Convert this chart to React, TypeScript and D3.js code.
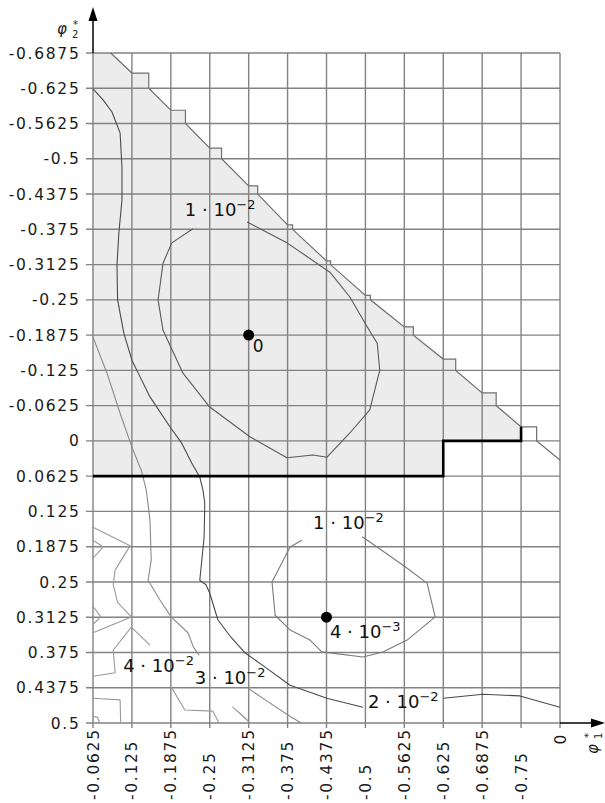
import * as d3 from 'd3';

type Pt = [number, number];

// axis ticks (φ1 columns read left to right, φ2 rows top to bottom)
const X_TICK_LABELS = ['-0.0625', '-0.125', '-0.1875', '-0.25', '-0.3125', '-0.375', '-0.4375', '-0.5', '-0.5625', '-0.625', '-0.6875', '-0.75', '0'];
const Y_TICK_LABELS = ['-0.6875', '-0.625', '-0.5625', '-0.5', '-0.4375', '-0.375', '-0.3125', '-0.25', '-0.1875', '-0.125', '-0.0625', '0', '0.0625', '0.125', '0.1875', '0.25', '0.3125', '0.375', '0.4375', '0.5'];
const STEP = 0.0625;
const PHI1_FIRST = -0.0625;
const PHI2_TOP = -0.6875;
const PHI2_BOTTOM = 0.5;

// admissible region boundary: diagonal meets the top edge, crosses the columns, meets the right edge
const boundaryTopPhi1 = -0.091;
const boundaryCrossings = [-0.652, -0.586, -0.519, -0.452, -0.383, -0.319, -0.258, -0.202, -0.145, -0.085, -0.025];
const boundaryEndPhi2 = 0.034;

// thick border of the shaded area
const thickBorder: Pt[] = [[-0.0625, 0.0625], [-0.625, 0.0625], [-0.625, 0], [-0.75, 0], [-0.75, -0.025]];

// contour level 2e-2
const c2a: Pt[] = [[-0.0625, -0.624], [-0.079, -0.604], [-0.093, -0.583], [-0.106, -0.546], [-0.109, -0.485], [-0.109, -0.427], [-0.104, -0.368], [-0.101, -0.312], [-0.102, -0.25], [-0.112, -0.191], [-0.125, -0.143], [-0.133, -0.125], [-0.154, -0.078], [-0.186, -0.025], [-0.205, 0.004], [-0.221, 0.039], [-0.234, 0.064], [-0.239, 0.087], [-0.242, 0.11], [-0.241, 0.17], [-0.234, 0.247], [-0.244, 0.255], [-0.25, 0.27], [-0.263, 0.317], [-0.284, 0.348], [-0.307, 0.376], [-0.339, 0.401], [-0.379, 0.433], [-0.438, 0.456], [-0.496, 0.472]];
const c2b: Pt[] = [[-0.625, 0.456], [-0.689, 0.449], [-0.748, 0.452], [-0.8125, 0.472]];

// contour level 3e-2
const c3a: Pt[] = [[-0.0625, -0.184], [-0.085, -0.12], [-0.106, -0.049], [-0.125, 0.011], [-0.14, 0.052], [-0.148, 0.087], [-0.154, 0.14], [-0.156, 0.211], [-0.151, 0.247], [-0.17, 0.282], [-0.188, 0.312], [-0.215, 0.34], [-0.224, 0.366], [-0.233, 0.38]];
const c3b: Pt[] = [[-0.311, 0.438], [-0.339, 0.459], [-0.38, 0.489], [-0.397, 0.5]];

// contour level 4e-2 (several pieces)
const c4a: Pt[] = [[-0.0625, 0.153], [-0.122, 0.186], [-0.098, 0.229], [-0.095, 0.255], [-0.102, 0.286], [-0.124, 0.312], [-0.188, 0.312]];
const c4b: Pt[] = [[-0.124, 0.312], [-0.0625, 0.34]];
const c4c: Pt[] = [[-0.154, 0.362], [-0.124, 0.33], [-0.095, 0.371], [-0.098, 0.411], [-0.0625, 0.417]];
const c4d: Pt[] = [[-0.188, 0.436], [-0.21, 0.477], [-0.255, 0.479], [-0.265, 0.5]];
const c4e: Pt[] = [[-0.0625, 0.176], [-0.079, 0.188], [-0.0625, 0.208]];
const c4f: Pt[] = [[-0.0625, 0.293], [-0.075, 0.312], [-0.0625, 0.325]];
const c4g: Pt[] = [[-0.0625, 0.456], [-0.106, 0.459], [-0.107, 0.5]];
const c4h: Pt[] = [[-0.0625, 0.488], [-0.07, 0.49], [-0.073, 0.5]];
const c4i: Pt[] = [[-0.315, 0.5], [-0.287, 0.472], [-0.31, 0.494]];

// contour level 1e-2 around the upper minimum
const c1up: Pt[] = [[-0.31, -0.388], [-0.374, -0.351], [-0.443, -0.299], [-0.475, -0.255], [-0.503, -0.202], [-0.519, -0.173], [-0.523, -0.125], [-0.507, -0.055], [-0.475, -0.014], [-0.438, 0.029], [-0.416, 0.025], [-0.374, 0.03], [-0.315, -0.007], [-0.25, -0.06], [-0.207, -0.12], [-0.175, -0.196], [-0.167, -0.25], [-0.175, -0.315], [-0.189, -0.351], [-0.223, -0.376]];

// contour level 1e-2 around the lower minimum
const c1low: Pt[] = [[-0.495, 0.17], [-0.56, 0.22], [-0.599, 0.252], [-0.612, 0.312], [-0.567, 0.353], [-0.528, 0.374], [-0.496, 0.383], [-0.43, 0.374], [-0.411, 0.353], [-0.379, 0.335], [-0.355, 0.309], [-0.35, 0.25], [-0.379, 0.188], [-0.398, 0.176]];

const minima: Pt[] = [[-0.3125, -0.1875], [-0.4375, 0.3125]];

// contour labels: position (text start, baseline), mantissa, exponent
const labelPos: Pt[] = [[-0.21, -0.399], [-0.416, 0.156], [-0.443, 0.349], [-0.111, 0.41], [-0.226, 0.431], [-0.504, 0.473]];
const labelMant = ['1', '1', '4', '4', '3', '2'];
const labelExp = ['2', '2', '3', '2', '2', '2'];
const zeroLabelPos: Pt = [-0.319, -0.157];

const W = 605;
const H = 803;

const x = d3.scaleLinear().domain([PHI1_FIRST, PHI1_FIRST - STEP * 12]).range([93, 560]);
const y = d3.scaleLinear().domain([PHI2_TOP, PHI2_BOTTOM]).range([53, 723]);

const line = d3.line<Pt>().x(d => x(d[0])).y(d => y(d[1]));

// diagonal with the small steps at every column
const buildBoundary = () => {
  const pts: Pt[] = [[boundaryTopPhi1, PHI2_TOP]];
  boundaryCrossings.forEach((yk, i) => {
    const xk = PHI1_FIRST - STEP * (i + 1);
    const g = PHI2_TOP + Math.ceil((yk - PHI2_TOP) / STEP - 1e-9) * STEP;
    const w = g - yk;
    pts.push([xk, yk], [xk - w, yk], [xk - w, g]);
  });
  pts.push([PHI1_FIRST - STEP * 12, boundaryEndPhi2]);
  return pts;
};

const Label = ({ p, m, e }: { p: Pt; m: string; e: string }) => (
  <text x={x(p[0])} y={y(p[1])} fontSize={18} fill="#111">
    {m} · 10
    <tspan fontSize={13} dy={-7}>−{e}</tspan>
  </text>
);

export default function App() {
  const boundary = buildBoundary();
  // fill follows the diagonal down to the last column crossing, then the thick border
  const fillPts: Pt[] = [
    [PHI1_FIRST, PHI2_TOP],
    ...boundary.slice(0, 1 + 3 * (boundaryCrossings.length - 1) + 1),
    ...thickBorder.slice().reverse(),
  ];
  const colVals = X_TICK_LABELS.map((_, i) => PHI1_FIRST - STEP * i);
  const rowVals = Y_TICK_LABELS.map((_, i) => PHI2_TOP + STEP * i);
  const font = '"DejaVu Sans", Verdana, sans-serif';

  const light = [c3a, c3b];
  const lighter = [c4a, c4b, c4c, c4d, c4e, c4f, c4g, c4h, c4i];
  const dark = [c2a, c2b];

  return (
    <svg width={W} height={H} style={{ position: 'absolute', left: 0, top: 0, fontFamily: font }}>
      <rect width={W} height={H} fill="#fff" />
      <path d={line(fillPts) + 'Z'} fill="#ececec" />

      {/* grid */}
      <g stroke="#828282" strokeWidth={1.4}>
        {colVals.map((v, i) => (
          <line key={'c' + i} x1={x(v)} x2={x(v)} y1={y(PHI2_TOP)} y2={y(PHI2_BOTTOM) + 5} />
        ))}
        {rowVals.map((v, i) => (
          <line key={'r' + i} x1={x(PHI1_FIRST) - 7} x2={x(colVals[colVals.length - 1])} y1={y(v)} y2={y(v)} />
        ))}
      </g>

      {/* contours */}
      <g fill="none" strokeWidth={1.1} strokeLinejoin="round">
        {lighter.map((c, i) => <path key={'l' + i} d={line(c) ?? ''} stroke="#9a9a9a" />)}
        {light.map((c, i) => <path key={'m' + i} d={line(c) ?? ''} stroke="#8a8a8a" />)}
        {dark.map((c, i) => <path key={'d' + i} d={line(c) ?? ''} stroke="#4a4a4a" />)}
        <path d={line(c1up) ?? ''} stroke="#5a5a5a" />
        <path d={line(c1low) ?? ''} stroke="#7a7a7a" />
      </g>

      {/* region boundary */}
      <path d={line(boundary) ?? ''} fill="none" stroke="#707070" strokeWidth={1.2} />
      <path d={line(thickBorder) ?? ''} fill="none" stroke="#000" strokeWidth={2.6} />

      {/* minima */}
      {minima.map((m, i) => (
        <circle key={'m' + i} cx={x(m[0])} cy={y(m[1])} r={5.5} fill="#000" />
      ))}

      {/* labels */}
      {labelPos.map((p, i) => (
        <Label key={'lb' + i} p={p} m={labelMant[i]} e={labelExp[i]} />
      ))}
      <text x={x(zeroLabelPos[0])} y={y(zeroLabelPos[1])} fontSize={17} fill="#111">0</text>

      {/* axes */}
      <line x1={93} x2={93} y1={y(PHI2_TOP)} y2={20} stroke="#000" strokeWidth={1.5} />
      <path d="M93,7 L88.5,21 L97.5,21 Z" fill="#000" />
      <line x1={560} x2={592} y1={723} y2={723} stroke="#000" strokeWidth={1.5} />
      <path d="M605,723 L591,718.5 L591,727.5 Z" fill="#000" />

      <g fontSize={15.5} fill="#1a1a1a" letterSpacing={1.7}>
        {Y_TICK_LABELS.map((t, i) => (
          <text key={'yl' + i} x={80.5} y={y(rowVals[i])} dy="0.36em" textAnchor="end">{t}</text>
        ))}
        {X_TICK_LABELS.map((t, i) => {
          const last = i === X_TICK_LABELS.length - 1;
          return (
            <text
              key={'xl' + i}
              transform={`translate(${x(colVals[i]) + 5.5},${last ? 733 : 800}) rotate(-90)`}
              textAnchor={last ? 'end' : 'start'}
            >
              {t}
            </text>
          );
        })}
      </g>

      {/* axis titles */}
      <g fill="#222">
        <text x={57} y={34} fontSize={15} fontStyle="italic">φ</text>
        <text x={72} y={38} fontSize={10}>2</text>
        <text x={73} y={28} fontSize={10}>*</text>
        <g transform="translate(598,754) rotate(-90)">
          <text x={0} y={0} fontSize={15} fontStyle="italic">φ</text>
          <text x={15} y={4} fontSize={10}>1</text>
          <text x={16} y={-6} fontSize={10}>*</text>
        </g>
      </g>
    </svg>
  );
}
